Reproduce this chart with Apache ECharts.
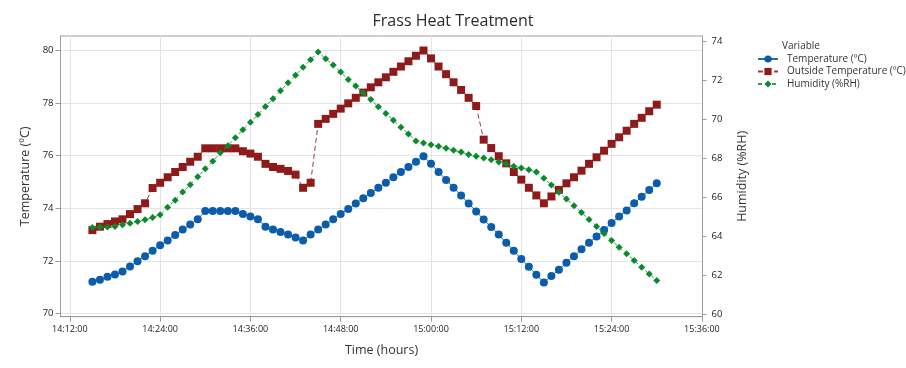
<!DOCTYPE html>
<html>
<head>
<meta charset="utf-8">
<script src="https://cdn.jsdelivr.net/npm/echarts@6/dist/echarts.min.js"></script>
<style>
  html, body { margin: 0; padding: 0; background: #ffffff; }
  #chart { width: 906px; height: 368px; }
</style>
</head>
<body>
<div id="chart"></div>
<script>
const times = [
  "14:15","14:16","14:17","14:18","14:19","14:20","14:21","14:22","14:23","14:24",
  "14:25","14:26","14:27","14:28","14:29","14:30","14:31","14:32","14:33","14:34",
  "14:35","14:36","14:37","14:38","14:39","14:40","14:41","14:42","14:43","14:44",
  "14:45","14:46","14:47","14:48","14:49","14:50","14:51","14:52","14:53","14:54",
  "14:55","14:56","14:57","14:58","14:59","15:00","15:01","15:02","15:03","15:04",
  "15:05","15:06","15:07","15:08","15:09","15:10","15:11","15:12","15:13","15:14",
  "15:15","15:16","15:17","15:18","15:19","15:20","15:21","15:22","15:23","15:24",
  "15:25","15:26","15:27","15:28","15:29","15:30"
];
const temperature = [
  71.21,71.28,71.40,71.48,71.60,71.79,71.99,72.18,72.39,72.59,
  72.78,72.98,73.19,73.38,73.58,73.90,73.90,73.90,73.90,73.90,
  73.78,73.69,73.58,73.30,73.19,73.10,73.00,72.89,72.78,73.00,
  73.19,73.38,73.58,73.78,73.97,74.18,74.38,74.58,74.78,74.97,
  75.18,75.38,75.57,75.77,75.98,75.69,75.38,75.08,74.78,74.49,
  74.18,73.88,73.57,73.29,73.00,72.69,72.39,72.07,71.78,71.47,
  71.18,71.43,71.66,71.93,72.18,72.44,72.69,72.93,73.17,73.44,
  73.69,73.92,74.19,74.44,74.70,74.95
];
const outsideTemperature = [
  73.17,73.30,73.40,73.50,73.58,73.78,73.97,74.19,74.77,74.97,
  75.18,75.38,75.57,75.77,75.96,76.28,76.28,76.28,76.28,76.28,
  76.17,76.08,75.96,75.69,75.57,75.50,75.42,75.28,74.78,74.97,
  77.21,77.40,77.59,77.79,77.99,78.20,78.40,78.60,78.79,78.98,
  79.19,79.39,79.59,79.80,80.00,79.70,79.39,79.10,78.79,78.50,
  78.20,77.89,76.61,76.29,75.98,75.71,75.38,75.09,74.78,74.49,
  74.19,74.45,74.70,74.95,75.18,75.43,75.69,75.94,76.19,76.45,
  76.70,76.95,77.21,77.44,77.69,77.94
];
const humidity = [
  64.45,64.47,64.47,64.50,64.59,64.67,64.76,64.84,64.96,65.10,
  65.48,65.84,66.26,66.64,67.05,67.45,67.84,68.27,68.64,69.04,
  69.46,69.84,70.23,70.65,71.04,71.45,71.86,72.25,72.65,73.04,
  73.44,73.09,72.77,72.41,72.03,71.69,71.33,71.00,70.63,70.29,
  69.94,69.58,69.24,68.88,68.78,68.69,68.61,68.51,68.40,68.31,
  68.18,68.10,68.01,67.92,67.80,67.70,67.58,67.50,67.41,67.29,
  66.97,66.62,66.25,65.90,65.56,65.22,64.86,64.50,64.14,63.78,
  63.44,63.10,62.76,62.41,62.07,61.73
];
const xTickLabels = ["14:12:00","14:24:00","14:36:00","14:48:00","15:00:00","15:12:00","15:24:00","15:36:00"];
const leftTicks = [70,72,74,76,78,80];
const rightTicks = [60,62,64,66,68,70,72,74];
const seriesNames = ["Temperature (ºC)","Outside Temperature (ºC)","Humidity (%RH)"];

function toMin(s) { const p = s.split(":"); return (+p[0]) * 60 + (+p[1]); }
function fmt(m) { const h = Math.floor(m / 60), mm = Math.round(m - h * 60); return h + ":" + (mm < 10 ? "0" : "") + mm + ":00"; }
const xTicks = xTickLabels.map(toMin);
const pairs = arr => times.map((t, i) => [toMin(t), arr[i]]);

const FONT = '"Open Sans", "Noto Sans", sans-serif';
const AXIS_COLOR = '#9d9d9d';
const GRID_COLOR = '#e4e4e4';
const TEXT = '#333333';

const chart = echarts.init(document.getElementById('chart'), null, { renderer: 'canvas' });
chart.setOption({
  animation: false,
  backgroundColor: '#ffffff',
  textStyle: { fontFamily: FONT },
  title: {
    text: 'Frass Heat Treatment',
    left: 'center',
    top: 8,
    textStyle: { fontFamily: FONT, fontSize: 16, fontWeight: 'normal', color: '#2a2a2a' }
  },
  graphic: [{
    type: 'text', left: 782, top: 41,
    style: { text: 'Variable', fontFamily: FONT, fontSize: 10, fill: TEXT }
  }],
  legend: {
    orient: 'vertical',
    left: 752,
    top: 49,
    itemWidth: 20,
    itemHeight: 9,
    itemGap: 2.5,
    data: seriesNames,
    textStyle: { fontFamily: FONT, fontSize: 10, color: TEXT, padding: [0, 0, 0, 4] }
  },
  grid: {
    left: 60.5, right: 203.5, top: 36, bottom: 51.3,
    show: true, borderColor: AXIS_COLOR, borderWidth: 1
  },
  xAxis: {
    type: 'value',
    min: 850.76, max: 936.08,
    name: 'Time (hours)',
    nameLocation: 'middle',
    nameGap: 27,
    nameTextStyle: { fontFamily: FONT, fontSize: 12.5, color: TEXT },
    axisLine: { show: true, lineStyle: { color: AXIS_COLOR } },
    axisTick: { show: true, length: 5, customValues: xTicks, lineStyle: { color: AXIS_COLOR } },
    axisLabel: { customValues: xTicks, formatter: v => fmt(v), fontFamily: FONT, fontSize: 9, color: '#1a1a1a', margin: 8 },
    splitLine: { show: true, lineStyle: { color: GRID_COLOR } }
  },
  yAxis: [{
    type: 'value',
    position: 'left',
    min: 69.878, max: 80.551,
    name: 'Temperature (ºC)',
    nameLocation: 'middle',
    nameRotate: 90,
    nameGap: 20,
    nameTextStyle: { fontFamily: FONT, fontSize: 12.5, color: TEXT },
    axisLine: { show: true, lineStyle: { color: AXIS_COLOR } },
    axisTick: { show: true, length: 5, customValues: leftTicks, lineStyle: { color: AXIS_COLOR } },
    axisLabel: { customValues: leftTicks, fontFamily: FONT, fontSize: 9.5, color: '#1a1a1a', margin: 7 },
    splitLine: { show: true, lineStyle: { color: GRID_COLOR } }
  }, {
    type: 'value',
    position: 'right',
    min: 59.877, max: 74.256,
    name: 'Humidity (%RH)',
    nameLocation: 'middle',
    nameRotate: 90,
    nameGap: 33,
    nameTextStyle: { fontFamily: FONT, fontSize: 12.5, color: TEXT },
    axisLine: { show: true, lineStyle: { color: AXIS_COLOR } },
    axisTick: { show: true, length: 4, customValues: rightTicks, lineStyle: { color: AXIS_COLOR } },
    axisLabel: { customValues: rightTicks, fontFamily: FONT, fontSize: 9.5, color: '#1a1a1a', margin: 9 },
    splitLine: { show: false }
  }],
  series: [{
    name: seriesNames[0],
    type: 'line',
    yAxisIndex: 0,
    data: pairs(temperature),
    symbol: 'circle',
    symbolSize: 8,
    itemStyle: { color: '#0b5cab' },
    lineStyle: { color: '#2a6db5', width: 1 },
    z: 3
  }, {
    name: seriesNames[1],
    type: 'line',
    yAxisIndex: 0,
    data: pairs(outsideTemperature),
    symbol: 'rect',
    symbolSize: 8,
    itemStyle: { color: '#8e1a1a' },
    lineStyle: { color: '#a03a3a', width: 1, type: [5, 3] },
    z: 2
  }, {
    name: seriesNames[2],
    type: 'line',
    yAxisIndex: 1,
    data: pairs(humidity),
    symbol: 'diamond',
    symbolSize: 7,
    itemStyle: { color: '#0b8a2c' },
    lineStyle: { color: '#3a9a50', width: 1, type: [4, 3] },
    z: 4
  }]
});
</script>
</body>
</html>
